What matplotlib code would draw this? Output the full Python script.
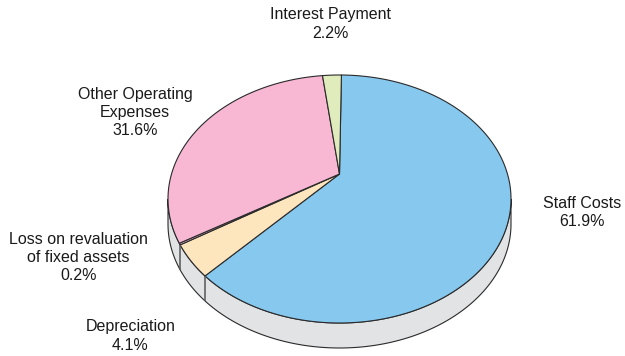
import numpy as np
import matplotlib
matplotlib.use("Agg")
import matplotlib.pyplot as plt
from matplotlib.patches import Polygon

plt.rcParams['font.family'] = ['Liberation Sans', 'DejaVu Sans']

labels = ["Staff Costs", "Depreciation", "Loss on revaluation\nof fixed assets",
          "Other Operating\nExpenses", "Interest Payment"]
shares = [61.9, 4.1, 0.2, 31.6, 2.2]
colors = ["#87c8ef", "#fde5be", "#f8b8d4", "#f8b8d4", "#e1ecbd"]
label_pos = [(582, 212.5), (130.5, 336), (78.5, 258), (135, 112.5), (330, 24)]

W, H = 625, 356
cx, cy, rx, ry = 339.5, 199, 171.5, 124
apex_y = 174
depth = 25
side_color = "#e2e3e5"
line_color = "#2a2a2a"

fig = plt.figure(figsize=(W / 100, H / 100), dpi=100)
ax = fig.add_axes([0, 0, 1, 1])
ax.set_xlim(0, W)
ax.set_ylim(H, 0)
ax.axis("off")


def rim(angles):
    # point where a ray from the apex leaves the ellipse, angle clockwise from 12 o'clock
    t = np.radians(np.asarray(angles, dtype=float))
    dx, dy = np.sin(t), -np.cos(t)
    off = (apex_y - cy) / ry
    s = -off * dy + np.sqrt((off * dy) ** 2 - off ** 2 + 1)
    return cx + rx * s * dx, apex_y + ry * s * dy


start = 0.8
edges = [start]
for s in shares:
    edges.append(edges[-1] + s * 3.6)

# side wall, only the part below the widest point of the ellipse shows
u = np.radians(np.linspace(90, 270, 200))
wx, wy = cx + rx * np.sin(u), cy - ry * np.cos(u)
wall = np.column_stack([np.r_[wx, wx[::-1]], np.r_[wy, wy[::-1] + depth]])
ax.add_patch(Polygon(wall, closed=True, fc=side_color, ec=line_color, lw=0.8))

# slice dividers on the wall
for a in edges[1:3]:
    x, y = rim([a])
    ax.plot([x[0], x[0]], [y[0], y[0] + depth], color="#555555", lw=1.1, solid_capstyle="butt")

# top face
for i in range(len(shares)):
    x, y = rim(np.linspace(edges[i], edges[i + 1], 200))
    pts = np.column_stack([np.r_[cx, x], np.r_[apex_y, y]])
    ax.add_patch(Polygon(pts, closed=True, fc=colors[i], ec=line_color, lw=0.8, joinstyle="round"))

for i in range(len(shares)):
    ax.text(label_pos[i][0], label_pos[i][1], f"{labels[i]}\n{shares[i]}%",
            ha="center", va="center", fontsize=11.5, color="#1a1a1a", linespacing=1.25)

fig.savefig("out.png", dpi=100, facecolor="white")
